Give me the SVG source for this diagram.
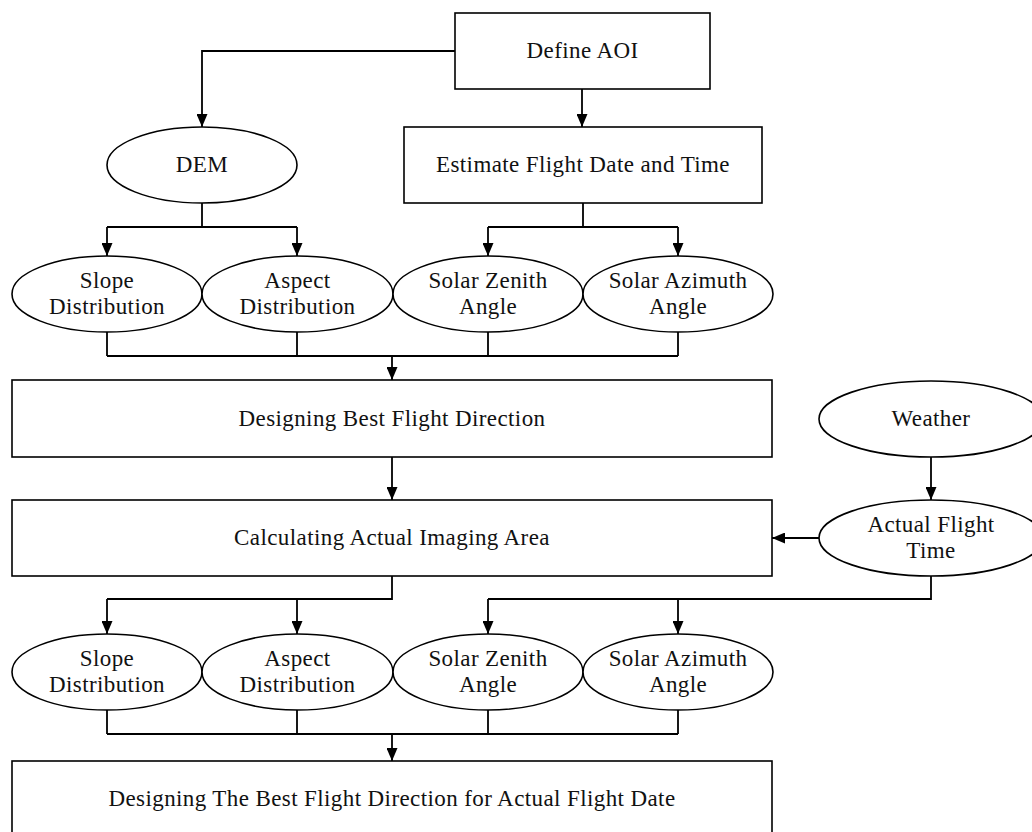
<svg xmlns="http://www.w3.org/2000/svg" width="1032" height="832" viewBox="0 0 1032 832">
<style>
.n{fill:#fff;stroke:#000;stroke-width:1.6}
.t{font-family:"Liberation Serif","Times New Roman",serif;font-size:23px;letter-spacing:0.4px;text-anchor:middle;fill:#111}
.c{fill:none;stroke:#000;stroke-width:1.8}
</style>
<defs>
<marker id="ah" viewBox="0 0 13 11" refX="13" refY="5.5" markerWidth="13" markerHeight="11" markerUnits="userSpaceOnUse" orient="auto">
<path d="M0,0 L13,5.5 L0,11 Z" fill="#000"/>
</marker>
</defs>
<rect width="1032" height="832" fill="#fff"/>
<g id="connectors">
<path class="c" d="M455,51 H202 V127" marker-end="url(#ah)"/>
<path class="c" d="M582,89 V127" marker-end="url(#ah)"/>
<path class="c" d="M202,203 V227 M107,227 H297"/>
<path class="c" d="M107,227 V256" marker-end="url(#ah)"/>
<path class="c" d="M297,227 V256" marker-end="url(#ah)"/>
<path class="c" d="M583,203 V227 M488,227 H678"/>
<path class="c" d="M488,227 V256" marker-end="url(#ah)"/>
<path class="c" d="M678,227 V256" marker-end="url(#ah)"/>
<path class="c" d="M107,332 V356 M297,332 V356 M488,332 V356 M678,332 V356 M107,356 H678"/>
<path class="c" d="M392,356 V380" marker-end="url(#ah)"/>
<path class="c" d="M392,457 V500" marker-end="url(#ah)"/>
<path class="c" d="M931,457 V500" marker-end="url(#ah)"/>
<path class="c" d="M819,538 H772" marker-end="url(#ah)"/>
<path class="c" d="M392,576 V599 H107"/>
<path class="c" d="M107,599 V634" marker-end="url(#ah)"/>
<path class="c" d="M297,599 V634" marker-end="url(#ah)"/>
<path class="c" d="M931,575 V599 H488"/>
<path class="c" d="M488,599 V634" marker-end="url(#ah)"/>
<path class="c" d="M678,599 V634" marker-end="url(#ah)"/>
<path class="c" d="M107,710 V734 M297,710 V734 M488,710 V734 M678,710 V734 M107,734 H678"/>
<path class="c" d="M392,734 V761" marker-end="url(#ah)"/>
</g>
<g id="define-aoi"><rect class="n" x="455" y="13" width="255" height="76"/><text class="t" x="582.5" y="58">Define AOI</text></g>
<g id="dem"><ellipse class="n" cx="202" cy="165" rx="95" ry="38"/><text class="t" x="202" y="172">DEM</text></g>
<g id="estimate"><rect class="n" x="404" y="127" width="358" height="76"/><text class="t" x="583" y="172">Estimate Flight Date and Time</text></g>
<g id="slope1"><ellipse class="n" cx="107" cy="294" rx="95" ry="38"/><text class="t" x="107" y="288">Slope</text><text class="t" x="107" y="314">Distribution</text></g>
<g id="aspect1"><ellipse class="n" cx="297.5" cy="294" rx="95.5" ry="38"/><text class="t" x="297.5" y="288">Aspect</text><text class="t" x="297.5" y="314">Distribution</text></g>
<g id="zenith1"><ellipse class="n" cx="488" cy="294" rx="95" ry="38"/><text class="t" x="488" y="288">Solar Zenith</text><text class="t" x="488" y="314">Angle</text></g>
<g id="azimuth1"><ellipse class="n" cx="678" cy="294" rx="95" ry="38"/><text class="t" x="678" y="288">Solar Azimuth</text><text class="t" x="678" y="314">Angle</text></g>
<g id="designing"><rect class="n" x="12" y="380" width="760" height="77"/><text class="t" x="392" y="426">Designing Best Flight Direction</text></g>
<g id="weather"><ellipse class="n" cx="931" cy="419" rx="112" ry="38"/><text class="t" x="931" y="426">Weather</text></g>
<g id="calculating"><rect class="n" x="12" y="500" width="760" height="76"/><text class="t" x="392" y="545">Calculating Actual Imaging Area</text></g>
<g id="actual-flight-time"><ellipse class="n" cx="931" cy="538" rx="112" ry="38"/><text class="t" x="931" y="532">Actual Flight</text><text class="t" x="931" y="558">Time</text></g>
<g id="slope2"><ellipse class="n" cx="107" cy="672" rx="95" ry="38"/><text class="t" x="107" y="666">Slope</text><text class="t" x="107" y="692">Distribution</text></g>
<g id="aspect2"><ellipse class="n" cx="297.5" cy="672" rx="95.5" ry="38"/><text class="t" x="297.5" y="666">Aspect</text><text class="t" x="297.5" y="692">Distribution</text></g>
<g id="zenith2"><ellipse class="n" cx="488" cy="672" rx="95" ry="38"/><text class="t" x="488" y="666">Solar Zenith</text><text class="t" x="488" y="692">Angle</text></g>
<g id="azimuth2"><ellipse class="n" cx="678" cy="672" rx="95" ry="38"/><text class="t" x="678" y="666">Solar Azimuth</text><text class="t" x="678" y="692">Angle</text></g>
<g id="designing-actual"><rect class="n" x="12" y="761" width="760" height="80"/><text class="t" x="392" y="806">Designing The Best Flight Direction for Actual Flight Date</text></g>
</svg>
